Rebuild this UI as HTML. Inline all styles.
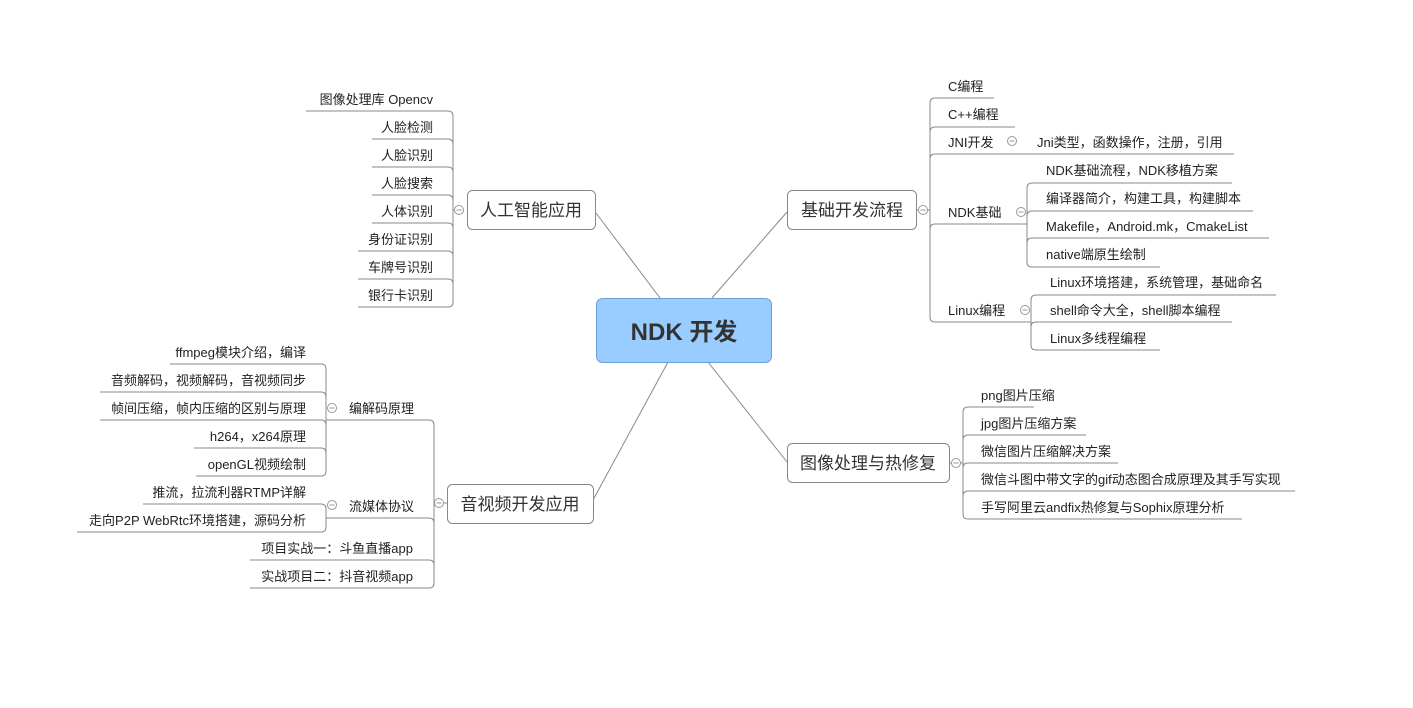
<!DOCTYPE html>
<html><head><meta charset="utf-8"><style>
html,body{margin:0;padding:0;background:#fff;width:1413px;height:708px;overflow:hidden}
svg text{font-family:"Liberation Sans","Noto Sans CJK SC",sans-serif;fill:#222}
.l{font-size:13px}
.b{font-size:17px;fill:#333}
</style></head><body>
<svg width="1413" height="708" xmlns="http://www.w3.org/2000/svg">
<g stroke="#888" stroke-width="1" fill="none">
<!-- main connectors -->
<line x1="712" y1="298" x2="787" y2="212"/>
<line x1="660" y1="298" x2="596" y2="213"/>
<line x1="708" y1="362" x2="787" y2="462"/>
<line x1="668" y1="362" x2="593" y2="500"/>

<!-- 基础开发流程 bracket x930 -->
<path d="M917 210 H930"/>
<path d="M994 98 H935 Q930 98 930 103 V317 Q930 322 935 322 H1031"/>
<path d="M1015 127 H935 Q930 127 930 132"/>
<path d="M1234 154 H935 Q930 154 930 159"/>
<path d="M1027 224 H935 Q930 224 930 229"/>
<!-- NDK基础 sub x1027 -->
<path d="M1232 183 H1032 Q1027 183 1027 188 V262 Q1027 267 1032 267 H1160"/>
<path d="M1253 211 H1032 Q1027 211 1027 216"/>
<path d="M1269 238 H1032 Q1027 238 1027 243"/>
<!-- Linux sub x1031 -->
<path d="M1276 295 H1036 Q1031 295 1031 300 V345 Q1031 350 1036 350 H1160"/>
<path d="M1232 322 H1036 Q1031 322 1031 327"/>

<!-- 人工智能 bracket x453 -->
<path d="M459 210 H453"/>
<path d="M306 111 H448 Q453 111 453 116 V302 Q453 307 448 307 H358"/>
<path d="M372 139 H448 Q453 139 453 144"/>
<path d="M372 167 H448 Q453 167 453 172"/>
<path d="M372 195 H448 Q453 195 453 200"/>
<path d="M372 223 H448 Q453 223 453 228"/>
<path d="M358 251 H448 Q453 251 453 256"/>
<path d="M358 279 H448 Q453 279 453 284"/>

<!-- 音视频 bracket x434 -->
<path d="M447 503 H434"/>
<path d="M326 420 H429 Q434 420 434 425 V583 Q434 588 429 588 H250"/>
<path d="M326 518 H429 Q434 518 434 523"/>
<path d="M250 560 H429 Q434 560 434 565"/>
<!-- 编解码 sub x326 -->
<path d="M170 364 H321 Q326 364 326 369 V471 Q326 476 321 476 H196"/>
<path d="M100 392 H321 Q326 392 326 397"/>
<path d="M100 420 H321 Q326 420 326 425"/>
<path d="M194 448 H321 Q326 448 326 453"/>
<!-- 流媒体 sub -->
<path d="M143 504 H321 Q326 504 326 509 V527 Q326 532 321 532 H77"/>

<!-- 图像处理 bracket x963 -->
<path d="M949 463 H963"/>
<path d="M1034 407 H968 Q963 407 963 412 V514 Q963 519 968 519 H1242"/>
<path d="M1086 435 H968 Q963 435 963 440"/>
<path d="M1118 463 H968 Q963 463 963 468"/>
<path d="M1295 491 H968 Q963 491 963 496"/>
</g>

<!-- boxes -->
<rect x="596.5" y="298.5" width="175" height="64" rx="6" fill="#99ccff" stroke="#6f9fd0"/>
<text x="684" y="340" text-anchor="middle" style="font-size:24px;font-weight:bold;fill:#333">NDK 开发</text>
<g fill="#fff" stroke="#888">
<rect x="787.5" y="190.5" width="129" height="39" rx="5"/>
<rect x="467.5" y="190.5" width="128" height="39" rx="5"/>
<rect x="447.5" y="484.5" width="146" height="39" rx="5"/>
<rect x="787.5" y="443.5" width="162" height="39" rx="5"/>
</g>
<text class="b" x="852" y="216" text-anchor="middle">基础开发流程</text>
<text class="b" x="531" y="216" text-anchor="middle">人工智能应用</text>
<text class="b" x="520" y="510" text-anchor="middle">音视频开发应用</text>
<text class="b" x="868" y="469" text-anchor="middle">图像处理与热修复</text>

<!-- collapse circles -->
<g fill="#fff" stroke="#999">
<circle cx="923" cy="210" r="4.5"/><circle cx="1012" cy="141" r="4.5"/>
<circle cx="1021" cy="212" r="4.5"/><circle cx="1025" cy="310" r="4.5"/>
<circle cx="459" cy="210" r="4.5"/><circle cx="439" cy="503" r="4.5"/>
<circle cx="332" cy="408" r="4.5"/><circle cx="332" cy="505" r="4.5"/>
<circle cx="956" cy="463" r="4.5"/>
</g>
<g stroke="#999">
<path d="M920.5 210H925.5M1009.5 141H1014.5M1018.5 212H1023.5M1022.5 310H1027.5M456.5 210H461.5M436.5 503H441.5M329.5 408H334.5M329.5 505H334.5M953.5 463H958.5"/>
</g>

<!-- right top texts -->
<g class="l">
<text x="948" y="91">C编程</text>
<text x="948" y="119">C++编程</text>
<text x="948" y="147">JNI开发</text>
<text x="1037" y="147">Jni类型，函数操作，注册，引用</text>
<text x="948" y="217">NDK基础</text>
<text x="1046" y="175">NDK基础流程，NDK移植方案</text>
<text x="1046" y="203">编译器简介，构建工具，构建脚本</text>
<text x="1046" y="231">Makefile，Android.mk，CmakeList</text>
<text x="1046" y="259">native端原生绘制</text>
<text x="948" y="315">Linux编程</text>
<text x="1050" y="287">Linux环境搭建，系统管理，基础命名</text>
<text x="1050" y="315">shell命令大全，shell脚本编程</text>
<text x="1050" y="343">Linux多线程编程</text>
</g>
<!-- left top -->
<g class="l" text-anchor="end">
<text x="433" y="104">图像处理库 Opencv</text>
<text x="433" y="132">人脸检测</text>
<text x="433" y="160">人脸识别</text>
<text x="433" y="188">人脸搜索</text>
<text x="433" y="216">人体识别</text>
<text x="433" y="244">身份证识别</text>
<text x="433" y="272">车牌号识别</text>
<text x="433" y="300">银行卡识别</text>
<text x="306" y="357">ffmpeg模块介绍，编译</text>
<text x="306" y="385">音频解码，视频解码，音视频同步</text>
<text x="306" y="413">帧间压缩，帧内压缩的区别与原理</text>
<text x="306" y="441">h264，x264原理</text>
<text x="306" y="469">openGL视频绘制</text>
<text x="306" y="497">推流，拉流利器RTMP详解</text>
<text x="306" y="525">走向P2P WebRtc环境搭建，源码分析</text>
<text x="413" y="553">项目实战一：斗鱼直播app</text>
<text x="413" y="581">实战项目二：抖音视频app</text>
</g>
<g class="l">
<text x="349" y="413">编解码原理</text>
<text x="349" y="511">流媒体协议</text>
<text x="981" y="400">png图片压缩</text>
<text x="981" y="428">jpg图片压缩方案</text>
<text x="981" y="456">微信图片压缩解决方案</text>
<text x="981" y="484">微信斗图中带文字的gif动态图合成原理及其手写实现</text>
<text x="981" y="512">手写阿里云andfix热修复与Sophix原理分析</text>
</g>
</svg>
</body></html>
